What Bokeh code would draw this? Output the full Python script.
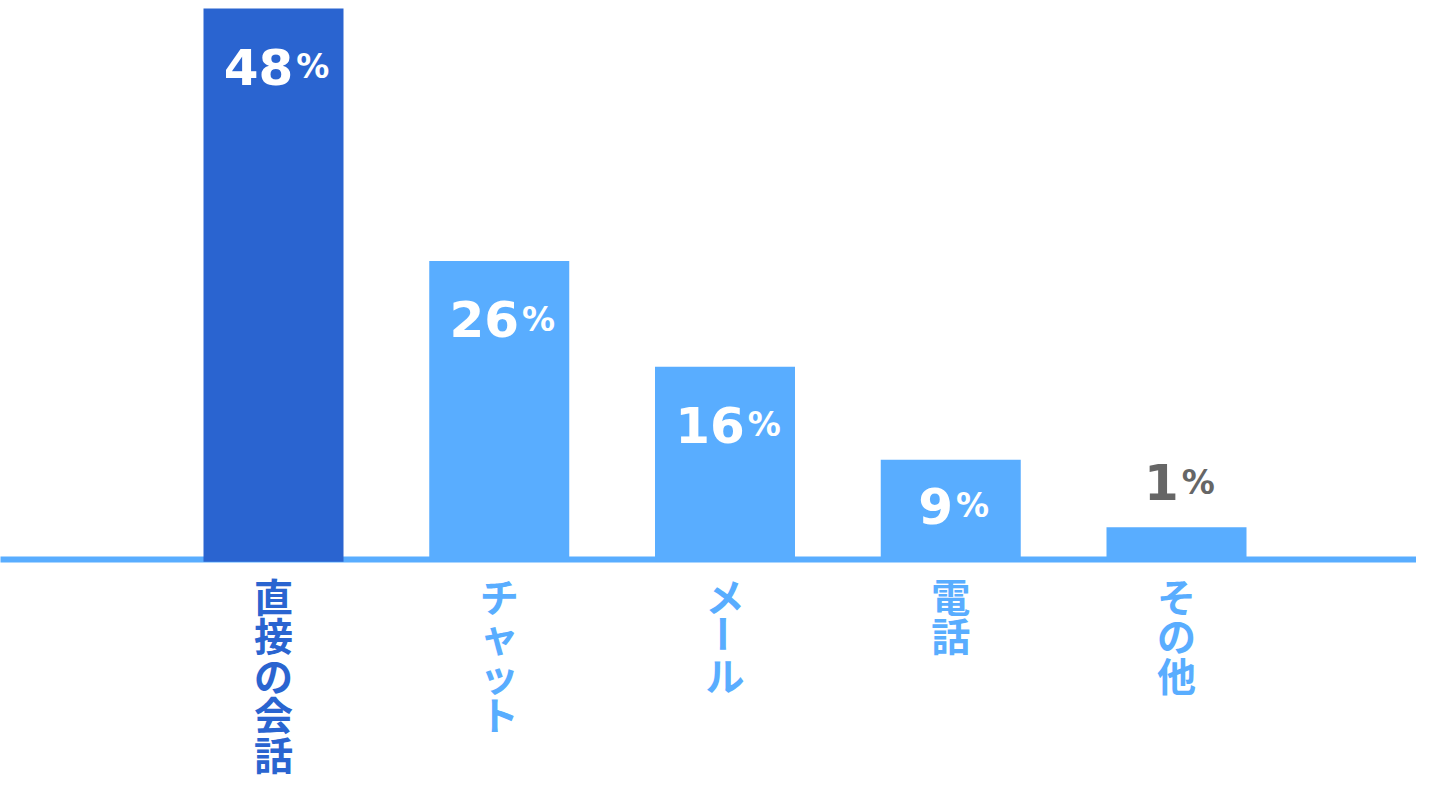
import math
from bokeh.plotting import figure
from bokeh.models import ColumnDataSource, Span, Range1d
from bokeh.core.properties import value
from bokeh.embed import file_html
from bokeh.resources import INLINE

# ---- data ----
categories = ["直接の会話", "チャット", "メール", "電話", "その他"]
percent_values = [48, 26, 16, 9, 1]
bar_heights = [48.0, 26.0, 16.8, 8.7, 2.8]   # drawn heights
highlight = [True, False, False, False, False]

DARK = "#2A64D0"
LIGHT = "#59ADFF"
GRAY = "#666666"

W, H = 1416, 784
spacing_px = 225.75
center0_px = 273.0
base_px = 559.0
px_per_unit = 551.0 / 48.0

x_start = -center0_px / spacing_px
x_end = (W - center0_px) / spacing_px
y_end = base_px / px_per_unit
y_start = -(H - base_px) / px_per_unit

p = figure(width=W, height=H, output_backend="svg", toolbar_location=None,
           x_range=Range1d(x_start, x_end), y_range=Range1d(y_start, y_end),
           min_border=0, outline_line_color=None)
p.axis.visible = False
p.grid.visible = False
p.background_fill_color = "white"
p.border_fill_color = "white"

xs = list(range(len(categories)))
bar_colors = [DARK if h else LIGHT for h in highlight]

base = Span(location=0, dimension="width", line_color=LIGHT, line_width=6,
            line_cap="round", level="underlay")
p.add_layout(base)

bars = ColumnDataSource(dict(x=xs, top=bar_heights, color=bar_colors))
p.vbar(x="x", top="top", bottom=-0.2, width=140 / spacing_px, source=bars,
       fill_color="color", line_color=None)

# ---- value labels ----
num_size, pct_size = 50, 33
digit_w = 0.696 * num_size
pct_w = 1.002 * pct_size
gap = 3
baseline_fix = -21
num_txt, pct_txt, nx_off, px_off, y_off, lab_col, ytop = [], [], [], [], [], [], []
for i, (v, h) in enumerate(zip(percent_values, bar_heights)):
    s = str(v)
    n = len(s)
    total = n * digit_w + gap + pct_w
    left = -total / 2 + 3
    num_right = left + n * digit_w
    nx_off.append(num_right)
    px_off.append(num_right + gap)
    num_txt.append(s)
    pct_txt.append("%")
    bar_px = h * px_per_unit
    if bar_px > 60:
        y_off.append(min(79, bar_px / 2 + 17) + baseline_fix)
        lab_col.append("white")
    else:
        y_off.append(-24 + baseline_fix)
        lab_col.append(GRAY)
    ytop.append(h)

labels = ColumnDataSource(dict(x=xs, y=ytop, num=num_txt, pct=pct_txt,
                               nxo=nx_off, pxo=px_off, yo=y_off, col=lab_col))
p.text(x="x", y="y", text="num", x_offset="nxo", y_offset="yo", source=labels,
       text_align="right", text_baseline="alphabetic", text_color="col",
       text_font=value("DejaVu Sans"), text_font_style="bold",
       text_font_size=f"{num_size}px")
p.text(x="x", y="y", text="pct", x_offset="pxo", y_offset="yo", source=labels,
       text_align="left", text_baseline="alphabetic", text_color="col",
       text_font=value("DejaVu Sans"), text_font_style="bold",
       text_font_size=f"{pct_size}px")

# ---- vertical category labels ----
cx, cy, ch, cyo, ccol, cang = [], [], [], [], [], []
pitch = 39.5
first = 35.0
for i, cat in enumerate(categories):
    for j, c in enumerate(cat):
        cx.append(i)
        cy.append(0)
        ch.append(c)
        cyo.append(first + pitch * j)
        ccol.append(DARK if highlight[i] else LIGHT)
        cang.append(-math.pi / 2 if c == "ー" else 0.0)

cats = ColumnDataSource(dict(x=cx, y=cy, t=ch, yo=cyo, col=ccol, ang=cang))
p.text(x="x", y="y", text="t", y_offset="yo", angle="ang", source=cats,
       text_align="center", text_baseline="middle", text_color="col",
       text_font=value("Noto Sans CJK JP"), text_font_style="bold",
       text_font_size="39px")

open("out.html", "w").write(file_html(p, INLINE))
